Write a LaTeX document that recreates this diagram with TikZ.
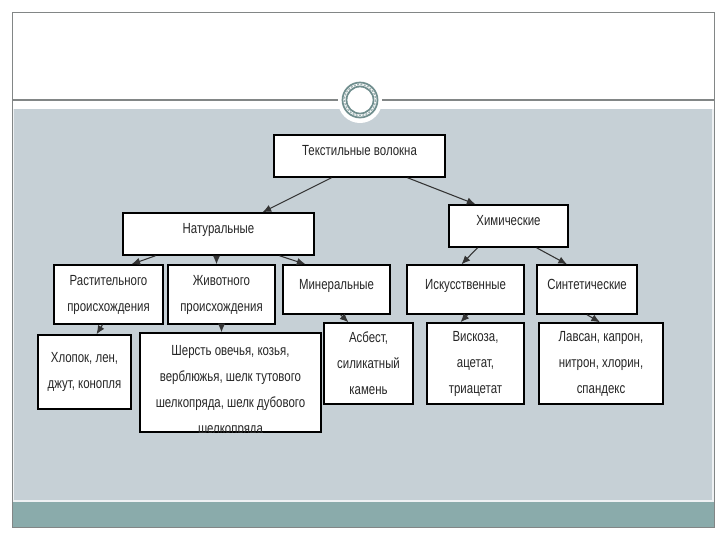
\documentclass[tikz,border=0pt]{standalone}
\usepackage{fontspec}
\setmainfont[FakeStretch=0.78]{Liberation Sans}
\usetikzlibrary{calc,arrows.meta}

\definecolor{slidegrey}{RGB}{198,208,214}
\definecolor{slideteal}{RGB}{138,171,171}
\definecolor{ringteal}{RGB}{112,142,142}
\definecolor{framegrey}{RGB}{130,134,134}

\tikzset{every picture/.style={line width=0.75pt}}
\tikzset{
  box/.style={draw=black, fill=white, line width=1.1pt, inner sep=0pt, align=center,
    font=\fontsize{11}{19.5}\selectfont, text=black!85},
  bsize/.style 2 args={minimum width=0.75*#1, minimum height=0.75*#2},
  oneline/.style={text depth=8pt},
  arr/.style={draw=black!80, line width=0.8pt, -{Latex[length=6.5pt,width=5.5pt]}}
}

\begin{document}
\begin{tikzpicture}[x=0.75pt,y=0.75pt,yscale=-1,xscale=1]
	\useasboundingbox (0,0) rectangle (720,540);
	\fill[white] (0,0) rectangle (720,540);

	%Shape: Rectangle [slide body]
	\fill[slidegrey] (12,109) rectangle (714,502);
	\draw[white!70!slidegrey, line width=1.5pt] (13,109) -- (13,501) -- (713,501) -- (713,109);
	\fill[slideteal] (12,502) rectangle (714,527);
	%Straight Lines [frame]
	\draw[framegrey] (12,12) rectangle (714,527);
	\draw[framegrey, line width=1pt] (12,100) -- (714,100);

	%Shape: Circle [ring]
	\fill[white] (360,101) circle (22);
	\draw[ringteal, line width=1.3pt] (360,100) circle (17.5);
	\draw[ringteal, line width=1.3pt] (360,100) circle (13.5);
	\draw[ringteal!70, line width=1pt, dash pattern={on 1.5pt off 1pt}] (360,100) circle (15.5);

	% Boxes
	\node[box, oneline, bsize={171}{42}] (tekst) at (359.5,156) {Текстильные волокна};
	\node[box, oneline, bsize={191}{42}] (natur) at (218.5,234) {Натуральные};
	\node[box, oneline, bsize={119}{42}] (khim) at (508.5,226) {Химические};

	\node[box, bsize={109}{59}] (rast) at (108.5,294.5) {Растительного\\происхождения};
	\node[box, bsize={107}{59}] (zhiv) at (221.5,294.5) {Животного\\происхождения};
	\node[box, oneline, bsize={107}{49}] (miner) at (336.5,289.5) {Минеральные};
	\node[box, oneline, bsize={117}{49}] (iskus) at (465.5,289.5) {Искусственные};
	\node[box, oneline, bsize={100}{49}] (sint) at (587,289.5) {Синтетические};

	\node[box, bsize={93}{74}] (khlop) at (84.5,372) {Хлопок, лен,\\джут, конопля};
	\node[box, bsize={181}{99}] (sherst) at (230.5,382.5) {};
	\begin{scope}
		\clip (sherst.north west) rectangle (sherst.south east);
		\node[box, draw=none, fill=none] (sherstT) at (230.5,390.5) {Шерсть овечья, козья,\\верблюжья, шелк тутового\\шелкопряда, шелк дубового\\шелкопряда};
	\end{scope}
	\node[box, bsize={89}{81}] (asbest) at (368.5,363.5) {Асбест,\\силикатный\\камень};
	\node[box, bsize={97}{81}] (viskoza) at (475.5,363.5) {Вискоза,\\ацетат,\\триацетат};
	\node[box, bsize={124}{81}] (lavsan) at (601,363.5) {Лавсан, капрон,\\нитрон, хлорин,\\спандекс};

	% Arrows
	\draw[arr] ($(tekst.south)+(-28,0)$) -- ($(natur.north)+(44,0)$);
	\draw[arr] ($(tekst.south)+(48,0)$) -- ($(khim.north)+(-33,0)$);
	\draw[arr] ($(natur.south)+(-63,0)$) -- ($(rast.north)+(23,0)$);
	\draw[arr] ($(natur.south)+(-2,0)$) -- ($(zhiv.north)+(-5,0)$);
	\draw[arr] ($(natur.south)+(61,0)$) -- ($(miner.north)+(-31,0)$);
	\draw[arr] ($(khim.south)+(-31,0)$) -- ($(iskus.north)+(-4,0)$);
	\draw[arr] ($(khim.south)+(28,0)$) -- ($(sint.north)+(-20,0)$);
	\draw[arr] ($(rast.south)+(-6,0)$) -- ($(khlop.north)+(12,0)$);
	\draw[arr] ($(zhiv.south)+(0,0)$) -- ($(sherst.north)+(-9,0)$);
	\draw[arr] ($(miner.south)+(4,0)$) -- ($(asbest.north)+(-20,0)$);
	\draw[arr] ($(iskus.south)+(2,0)$) -- ($(viskoza.north)+(-15,0)$);
	\draw[arr] ($(sint.south)+(0,0)$) -- ($(lavsan.north)+(-1,0)$);

\end{tikzpicture}
\end{document}
